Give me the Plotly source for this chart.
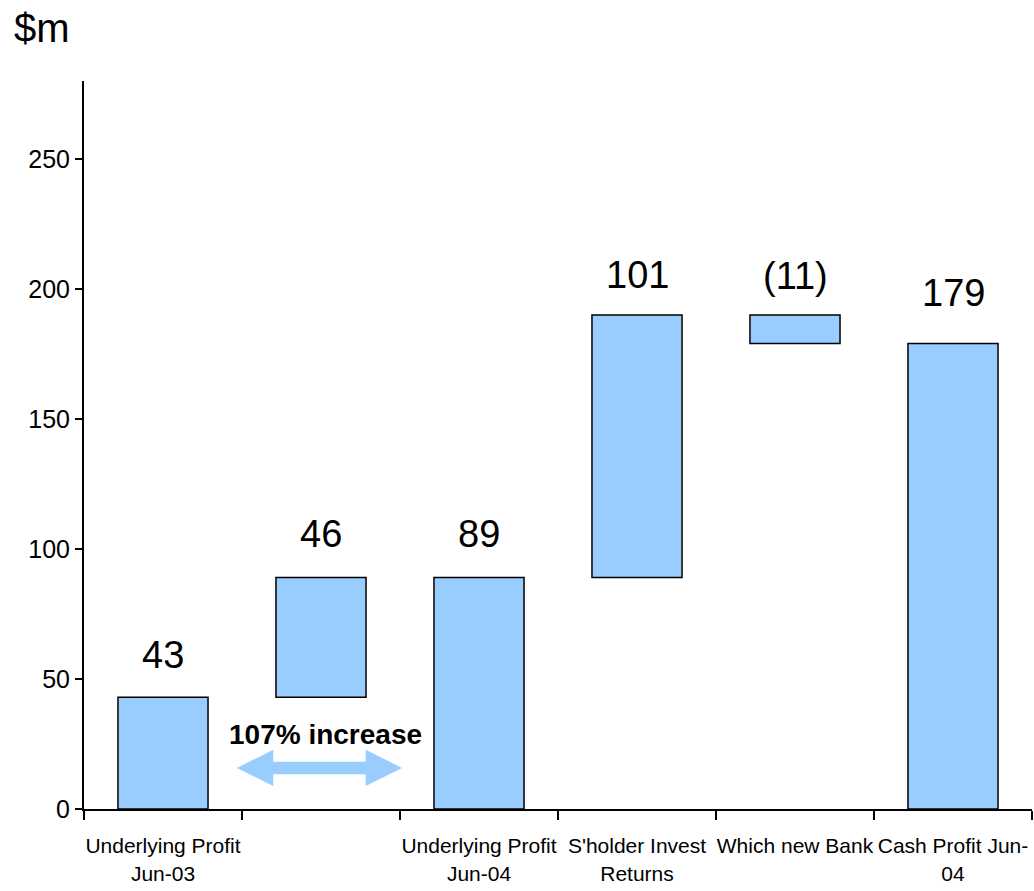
import plotly.graph_objects as go

# Profit bridge, $m
categories = [
    "Underlying Profit<br>Jun-03",
    " ",
    "Underlying Profit<br>Jun-04",
    "S'holder Invest<br>Returns",
    "Which new Bank",
    "Cash Profit Jun-<br>04",
]
values = [43, 46, 89, 101, -11, 179]
measures = ["absolute", "relative", "total", "relative", "relative", "total"]
y_ticks = [0, 50, 100, 150, 200, 250]

# Build floating bars from the running total
bases, heights, tops = [], [], []
running = 0
for v, m in zip(values, measures):
    if m == "absolute":
        running = v
        bases.append(0)
        heights.append(v)
    elif m == "total":
        bases.append(0)
        heights.append(running)
    else:
        bases.append(running)
        heights.append(v)
        running += v
    tops.append(max(bases[-1], bases[-1] + heights[-1]))

labels = [f"({abs(v)})" if v < 0 else f"{v}" for v in values]
label_shift = [19, 21, 21, 17, 16, 28]

BAR_FILL = "#99CCFF"
REGULAR = "Liberation Sans, Arial, sans-serif"

fig = go.Figure()
fig.add_trace(go.Bar(
    x=categories,
    y=heights,
    base=bases,
    width=0.57,
    marker=dict(color=BAR_FILL, line=dict(color="#000000", width=1.5)),
    hoverinfo="skip",
))

annotations = []
for i, (lab, top, sh) in enumerate(zip(labels, tops, label_shift)):
    annotations.append(dict(
        x=i, y=top, xref="x", yref="y", text=lab, showarrow=False,
        yanchor="bottom", yshift=sh,
        font=dict(family=REGULAR, size=38, color="#000000"),
    ))

annotations.append(dict(
    x=-0.076, y=1.073, xref="paper", yref="paper", text="$m", showarrow=False,
    xanchor="left", yanchor="middle",
    font=dict(family=REGULAR, size=40, color="#000000"),
))
annotations.append(dict(
    x=1.03, y=28.5, xref="x", yref="y", text="<b>107% increase</b>", showarrow=False,
    xanchor="center", yanchor="middle",
    font=dict(family=REGULAR, size=28, color="#000000"),
))

# Double-headed arrow under the growth label
ax0, ax1 = 0.468, 1.513
ay, shaft, head, head_len = 15.8, 2.4, 7.0, 0.23
arrow_path = (
    f"M {ax0},{ay} L {ax0 + head_len},{ay + head} L {ax0 + head_len},{ay + shaft} "
    f"L {ax1 - head_len},{ay + shaft} L {ax1 - head_len},{ay + head} L {ax1},{ay} "
    f"L {ax1 - head_len},{ay - head} L {ax1 - head_len},{ay - shaft} "
    f"L {ax0 + head_len},{ay - shaft} L {ax0 + head_len},{ay - head} Z"
)
shapes = [dict(type="path", xref="x", yref="y", path=arrow_path,
               fillcolor=BAR_FILL, line=dict(width=0), layer="above")]

fig.update_layout(
    width=1034, height=891,
    margin=dict(l=84, r=2, t=81, b=82),
    paper_bgcolor="#FFFFFF", plot_bgcolor="#FFFFFF",
    showlegend=False,
    annotations=annotations,
    shapes=shapes,
)
fig.update_xaxes(
    type="category", range=[-0.5, 5.5], automargin=False, tickangle=0,
    showline=True, linecolor="#000000", linewidth=2,
    ticks="outside", ticklen=9, tickwidth=1.5, tickcolor="#000000",
    tickson="boundaries", showgrid=False, zeroline=False,
    ticklabelstandoff=17,
    tickfont=dict(family=REGULAR, size=21, color="#000000"),
)
fig.update_yaxes(
    range=[0, 280], tickvals=y_ticks, automargin=False,
    showline=True, linecolor="#000000", linewidth=2,
    ticks="outside", ticklen=7, tickwidth=1.5, tickcolor="#000000",
    showgrid=False, zeroline=False,
    tickfont=dict(family=REGULAR, size=25, color="#000000"),
)

fig.write_html("out.html")
